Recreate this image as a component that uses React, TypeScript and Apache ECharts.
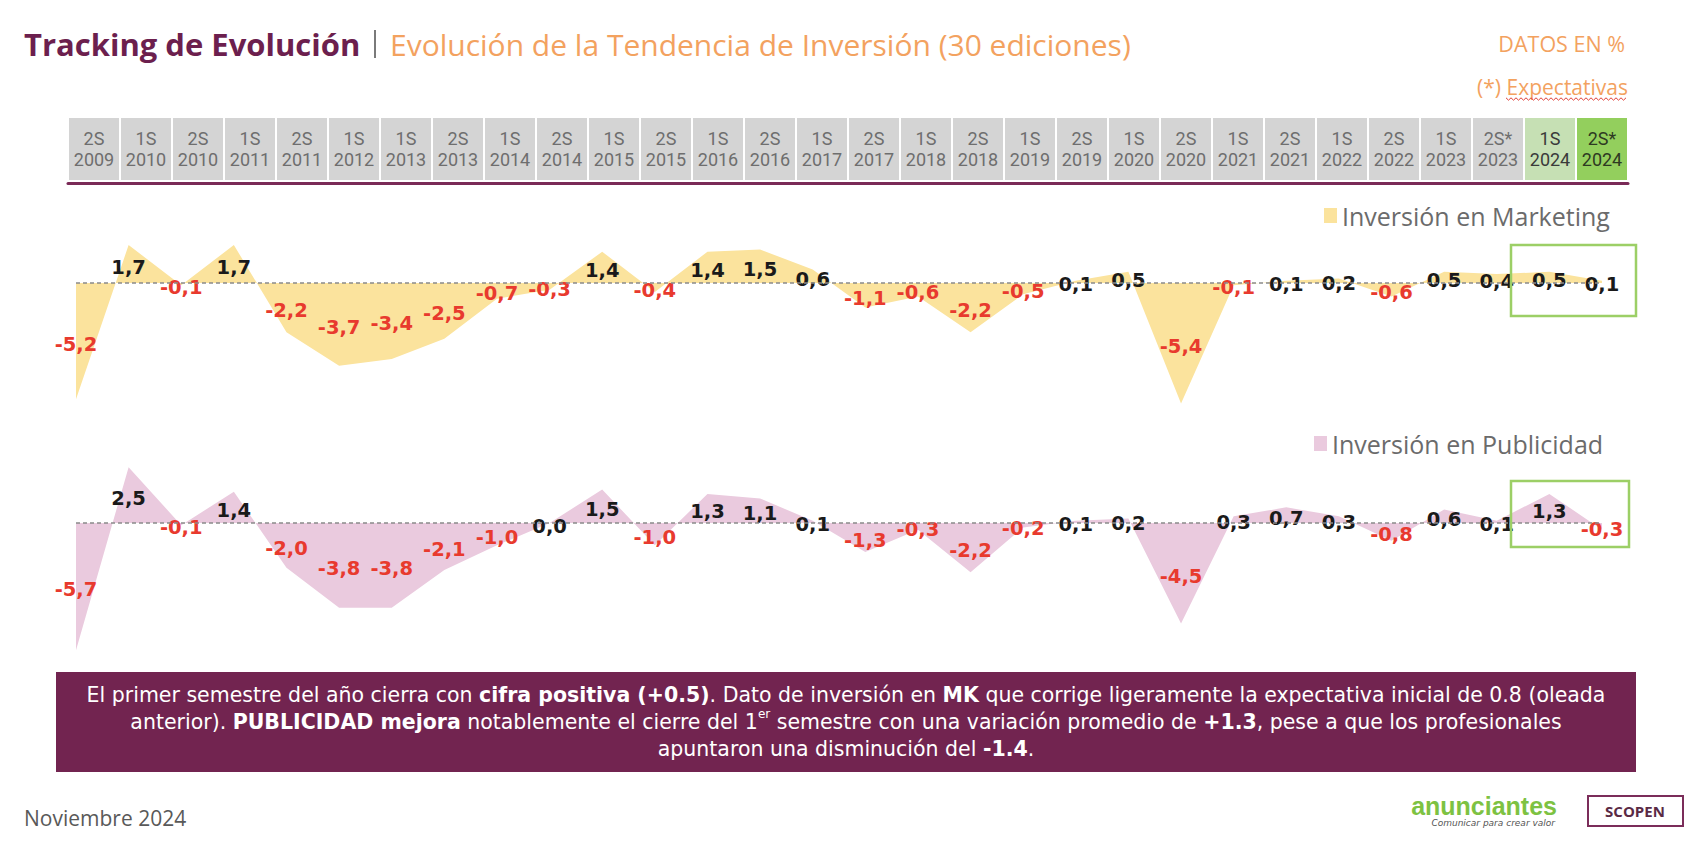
import React, { useEffect, useRef } from "react";
import * as echarts from "echarts";

// ---- Data ----
const semesters = ["2S","1S","2S","1S","2S","1S","1S","2S","1S","2S","1S","2S","1S","2S","1S","2S","1S","2S","1S","2S","1S","2S","1S","2S","1S","2S","1S","2S*","1S","2S*"];
const years = ["2009","2010","2010","2011","2011","2012","2013","2013","2014","2014","2015","2015","2016","2016","2017","2017","2018","2018","2019","2019","2020","2020","2021","2021","2022","2022","2023","2023","2024","2024"];
const marketing = [-5.2, 1.7, -0.1, 1.7, -2.2, -3.7, -3.4, -2.5, -0.7, -0.3, 1.4, -0.4, 1.4, 1.5, 0.6, -1.1, -0.6, -2.2, -0.5, 0.1, 0.5, -5.4, -0.1, 0.1, 0.2, -0.6, 0.5, 0.4, 0.5, 0.1];
const publicidad = [-5.7, 2.5, -0.1, 1.4, -2.0, -3.8, -3.8, -2.1, -1.0, 0.0, 1.5, -1.0, 1.3, 1.1, 0.1, -1.3, -0.3, -2.2, -0.2, 0.1, 0.2, -4.5, 0.3, 0.7, 0.3, -0.8, 0.6, 0.1, 1.3, -0.3];
const seriesNames = ["Inversión en Marketing", "Inversión en Publicidad"];
const lightGreenIndex = 28;
const greenIndex = 29;

const Y_MIN = -6;
const Y_MAX = 3;

// ---- Styles ----
const YELLOW = "#fbe39d";
const PINK = "#eacade";
const RED = "#e83a2e";
const BLACK = "#1a1a1a";
const PURPLE = "#722450";
const TITLE_PURPLE = "#6c1f4e";
const ORANGE = "#f3a25f";
const GREEN_BOX = "#9ccf66";
const FONT = "'Open Sans', sans-serif";
const BODY_FONT = "'DejaVu Sans', sans-serif";

const GRID_H = 201;
const PPU = GRID_H / (Y_MAX - Y_MIN);

const fmt = (v: number) => v.toFixed(1).replace(".", ",");

const categories = semesters.map((s, i) => `${s} ${years[i]}`);

function makeData(arr: number[]) {
  return arr.map((v) => ({
    value: v,
    label: { offset: [0, v * PPU / 2 + 3], color: v < 0 ? RED : BLACK },
  }));
}

function cellStyle(bg: string, color: string, top: boolean) {
  return {
    width: 50,
    height: 21,
    padding: top ? [10, 0, 0, 0] : [0, 0, 10, 0],
    align: "center",
    fontSize: 18,
    fontFamily: "Roboto, sans-serif",
    color,
    backgroundColor: bg,
  };
}

function zigzag(x0: number, x1: number, y: number) {
  const pts: number[][] = [];
  let up = true;
  for (let x = x0; x <= x1; x += 2.5) {
    pts.push([x, up ? y - 1.2 : y + 1.2]);
    up = !up;
  }
  return pts;
}

export default function App() {
  const ref = useRef<HTMLDivElement>(null);
  useEffect(() => {
    if (!ref.current) return;
    const chart = echarts.init(ref.current, undefined, { renderer: "svg" });

    const seriesCommon = (color: string) => ({
      type: "line",
      symbol: "circle",
      symbolSize: 1,
      itemStyle: { color: "rgba(0,0,0,0)" },
      lineStyle: { width: 0, opacity: 0 },
      areaStyle: { color, opacity: 1 },
      label: {
        show: true,
        position: "inside",
        formatter: (p: any) => fmt(p.value),
        fontSize: 19.5,
        fontWeight: "bold",
        fontFamily: "'DejaVu Sans', sans-serif",
      },
      markLine: {
        silent: true,
        symbol: "none",
        label: { show: false },
        lineStyle: { type: [4, 3], color: "#8a8a8a", width: 1.5 },
        data: [{ yAxis: 0 }],
      },
    });

    const legendCommon = {
      orient: "horizontal",
      padding: 0,
      itemWidth: 13,
      itemHeight: 15,
      itemGap: 6,
      selectedMode: false,
      textStyle: { color: "#6b6b6b", fontSize: 25, fontFamily: FONT },
    };

    chart.setOption({
      animation: false,
      backgroundColor: "#ffffff",
      grid: [
        { left: 76, right: 96, top: 216, height: GRID_H },
        { left: 76, right: 96, top: 456, height: GRID_H },
        { left: 68, right: 70, top: 183, height: 2 },
      ],
      xAxis: [
        { gridIndex: 0, type: "category", data: categories, boundaryGap: false, show: false },
        { gridIndex: 1, type: "category", data: categories, boundaryGap: false, show: false },
        {
          gridIndex: 2,
          type: "category",
          data: categories,
          boundaryGap: true,
          position: "top",
          axisLine: { show: true, onZero: false, lineStyle: { color: "#7a2a57", width: 3 } },
          axisTick: { show: false },
          splitLine: { show: false },
          axisLabel: {
            interval: 0,
            margin: 3,
            formatter: (_v: string, i: number) => {
              const k = i === greenIndex ? "g" : i === lightGreenIndex ? "l" : "n";
              return `{${k}t|${semesters[i]}}\n{${k}b|${years[i]}}`;
            },
            rich: {
              nt: cellStyle("#d4d4d4", "#6e6e6e", true),
              nb: cellStyle("#d4d4d4", "#6e6e6e", false),
              lt: cellStyle("#c6e0b4", "#3a3a3a", true),
              lb: cellStyle("#c6e0b4", "#3a3a3a", false),
              gt: cellStyle("#93cf5d", "#2e3a22", true),
              gb: cellStyle("#93cf5d", "#2e3a22", false),
            },
          },
        },
      ],
      yAxis: [
        { gridIndex: 0, type: "value", min: Y_MIN, max: Y_MAX, show: false },
        { gridIndex: 1, type: "value", min: Y_MIN, max: Y_MAX, show: false },
        { gridIndex: 2, type: "value", show: false },
      ],
      legend: [
        {
          ...legendCommon,
          left: 1324,
          top: 203,
          data: [{ name: seriesNames[0], icon: "rect", itemStyle: { color: YELLOW, opacity: 1 } }],
        },
        {
          ...legendCommon,
          left: 1314,
          top: 431,
          data: [{ name: seriesNames[1], icon: "rect", itemStyle: { color: PINK, opacity: 1 } }],
        },
      ],
      series: [
        { ...seriesCommon(YELLOW), name: seriesNames[0], xAxisIndex: 0, yAxisIndex: 0, data: makeData(marketing) },
        { ...seriesCommon(PINK), name: seriesNames[1], xAxisIndex: 1, yAxisIndex: 1, data: makeData(publicidad) },
      ],
      graphic: [
        {
          type: "text",
          x: 24,
          y: 44,
          style: { text: "Tracking de Evolución", fill: TITLE_PURPLE, font: `bold 31px ${FONT}`, verticalAlign: "middle" },
        },
        {
          type: "line",
          shape: { x1: 375, y1: 30, x2: 375, y2: 58 },
          style: { stroke: "#7a7a7a", lineWidth: 2 },
        },
        {
          type: "text",
          x: 390,
          y: 44,
          style: {
            text: "Evolución de la Tendencia de Inversión (30 ediciones)",
            fill: ORANGE,
            font: `30px ${FONT}`,
            verticalAlign: "middle",
          },
        },
        {
          type: "text",
          x: 1625,
          y: 43,
          style: { text: "DATOS EN %", fill: ORANGE, font: `21.5px ${FONT}`, align: "right", verticalAlign: "middle" },
        },
        {
          type: "text",
          x: 1628,
          y: 87,
          style: { text: "(*) Expectativas", fill: ORANGE, font: `21px ${FONT}`, align: "right", verticalAlign: "middle" },
        },
        {
          type: "polyline",
          shape: { points: zigzag(1506, 1628, 99) },
          style: { stroke: "#e0403a", lineWidth: 1, fill: null },
        },
        {
          type: "rect",
          shape: { x: 1511, y: 245, width: 125, height: 71 },
          style: { stroke: GREEN_BOX, lineWidth: 2.5, fill: null },
          z: 10,
        },
        {
          type: "rect",
          shape: { x: 1511, y: 481, width: 118, height: 66 },
          style: { stroke: GREEN_BOX, lineWidth: 2.5, fill: null },
          z: 10,
        },
        {
          type: "rect",
          shape: { x: 56, y: 672, width: 1580, height: 100 },
          style: { fill: PURPLE },
        },
        {
          type: "text",
          x: 846,
          y: 681,
          style: {
            text:
              "El primer semestre del año cierra con {b|cifra positiva (+0.5)}. Dato de inversión en {b|MK} que corrige ligeramente la expectativa inicial de 0.8 (oleada\n" +
              "anterior). {b|PUBLICIDAD mejora} notablemente el cierre del 1{s|er} semestre con una variación promedio de {b|+1.3}, pese a que los profesionales\n" +
              "apuntaron una disminución del {b|-1.4}.",
            fill: "#ffffff",
            font: `20.5px ${BODY_FONT}`,
            align: "center",
            verticalAlign: "top",
            lineHeight: 27,
            rich: {
              b: { fontWeight: "bold", fontSize: 20.5, fontFamily: BODY_FONT, fill: "#ffffff", lineHeight: 27 },
              s: { fontSize: 12, fontFamily: BODY_FONT, fill: "#ffffff", verticalAlign: "top", lineHeight: 27 },
            },
          },
        },
        {
          type: "text",
          x: 24,
          y: 818,
          style: { text: "Noviembre 2024", fill: "#595959", font: `21px ${FONT}`, verticalAlign: "middle" },
        },
        {
          type: "text",
          x: 1557,
          y: 806,
          style: {
            text: "anunciantes",
            fill: "#7dc242",
            font: `bold 25px 'Liberation Sans', Arial, sans-serif`,
            align: "right",
            verticalAlign: "middle",
          },
        },
        {
          type: "text",
          x: 1555,
          y: 823,
          style: {
            text: "Comunicar para crear valor",
            fill: "#555555",
            font: `italic 9px 'DejaVu Sans', sans-serif`,
            align: "right",
            verticalAlign: "middle",
          },
        },
        {
          type: "rect",
          shape: { x: 1588, y: 796, width: 95, height: 30 },
          style: { stroke: "#7b2d5a", lineWidth: 2, fill: null },
        },
        {
          type: "text",
          x: 1635,
          y: 811,
          style: {
            text: "SCOPEN",
            fill: "#5a2a45",
            font: `bold 15px ${FONT}`,
            align: "center",
            verticalAlign: "middle",
          },
        },
      ],
    });

    return () => chart.dispose();
  }, []);

  return (
    <div
      ref={ref}
      style={{ position: "absolute", left: 0, top: 0, width: 1698, height: 860 }}
    />
  );
}
